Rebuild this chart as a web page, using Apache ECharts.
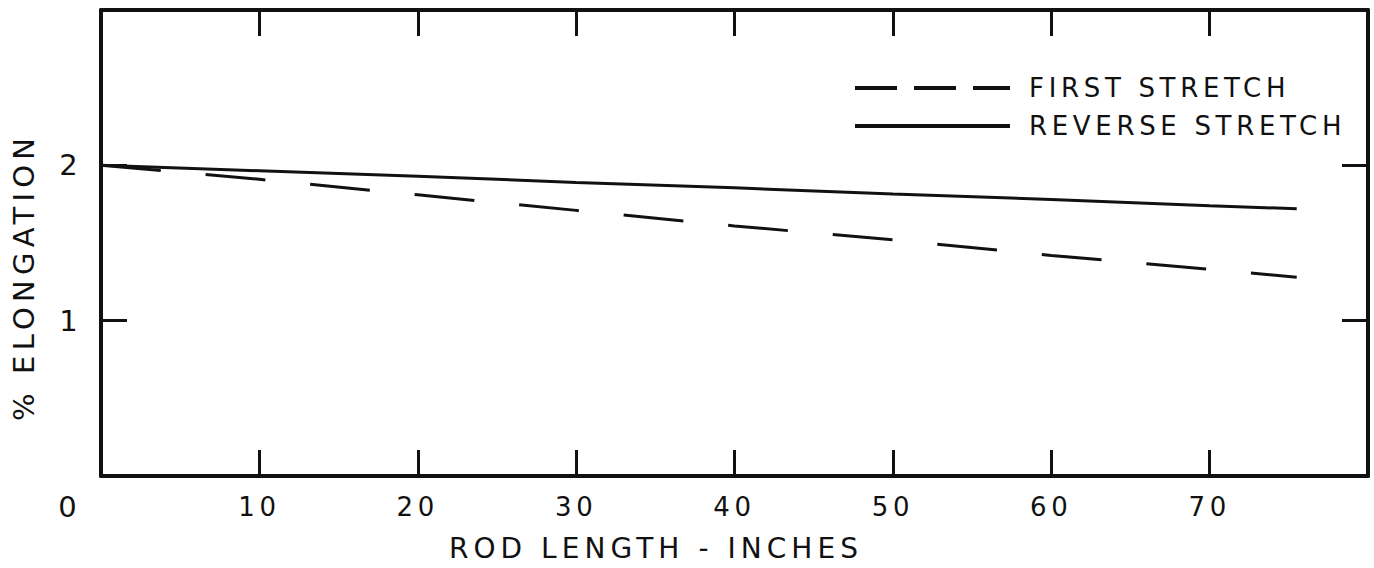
<!DOCTYPE html>
<html>
<head>
<meta charset="utf-8">
<script src="https://cdn.jsdelivr.net/npm/echarts@6/dist/echarts.min.js"></script>
<style>
html, body { margin: 0; padding: 0; background: #fff; }
#chart { width: 1374px; height: 568px; }
/* the original lettering is widely spaced */
#chart text { letter-spacing: 0.18em; }
</style>
</head>
<body>
<div id="chart"></div>
<script>
// rod length (inches) and % elongation
var rodLength = [0, 10, 20, 30, 40, 50, 60, 70, 75.5];
var firstStretch = [2.0, 1.91, 1.81, 1.71, 1.61, 1.52, 1.42, 1.33, 1.28];
var reverseStretch = [2.0, 1.965, 1.93, 1.89, 1.855, 1.815, 1.78, 1.74, 1.72];
var xLabels = [10, 20, 30, 40, 50, 60, 70];
var yLabels = [1, 2];

var ink = '#111';
var font = 'DejaVu Sans';

function pairs(xs, ys) {
    return xs.map(function (x, i) { return [x, ys[i]]; });
}

var boxAxis = {
    axisLine: { show: true, onZero: false, lineStyle: { color: ink, width: 4 } },
    axisTick: { show: true, inside: true, length: 26, lineStyle: { color: ink, width: 3 } },
    splitLine: { show: false }
};

var chart = echarts.init(document.getElementById('chart'), null, { renderer: 'svg' });
chart.setOption({
    backgroundColor: '#fff',
    animation: false,
    grid: { left: 101, right: 6, top: 10, bottom: 92 },
    xAxis: [
        Object.assign({
            type: 'value', min: 0, max: 80, interval: 10, position: 'bottom',
            axisLabel: {
                margin: 18, color: ink, fontFamily: font, fontSize: 26,
                formatter: function (v) { return xLabels.indexOf(v) >= 0 ? String(v) : ''; }
            }
        }, boxAxis),
        Object.assign({
            type: 'value', min: 0, max: 80, interval: 10, position: 'top',
            axisLabel: { show: false }
        }, boxAxis)
    ],
    yAxis: [
        Object.assign({
            type: 'value', min: 0, max: 3, interval: 1, position: 'left',
            axisLabel: {
                margin: 18, color: ink, fontFamily: font, fontSize: 29,
                formatter: function (v) { return yLabels.indexOf(v) >= 0 ? String(v) : ''; }
            }
        }, boxAxis),
        Object.assign({
            type: 'value', min: 0, max: 3, interval: 1, position: 'right',
            axisLabel: { show: false }
        }, boxAxis)
    ],
    legend: {
        orient: 'vertical',
        left: 848,
        top: 70,
        itemWidth: 155,
        itemHeight: 14,
        itemGap: 12,
        selectedMode: false,
        textStyle: { color: ink, fontFamily: font, fontSize: 26, lineHeight: 26, padding: [0, 0, 0, 14] },
        data: [
            { name: 'FIRST STRETCH', itemStyle: { opacity: 0 }, lineStyle: { type: [42, 17], width: 4, color: ink } },
            { name: 'REVERSE STRETCH', itemStyle: { opacity: 0 }, lineStyle: { type: 'solid', width: 4, color: ink } }
        ]
    },
    graphic: [
        {
            type: 'text', left: 449, top: 534,
            style: { text: 'ROD LENGTH - INCHES', fill: ink, font: '28px "DejaVu Sans"' }
        },
        {
            type: 'text', x: 24, y: 277, rotation: Math.PI / 2,
            style: { text: '% ELONGATION', fill: ink, font: '29px "DejaVu Sans"', align: 'center', verticalAlign: 'middle' }
        },
        {
            type: 'text', x: 70, y: 507,
            style: { text: '0', fill: ink, font: '29px "DejaVu Sans"', align: 'center', verticalAlign: 'middle' }
        }
    ],
    series: [
        {
            name: 'FIRST STRETCH', type: 'line', showSymbol: false, symbol: 'none',
            lineStyle: { color: ink, width: 3, type: [60, 45] },
            itemStyle: { color: ink },
            data: pairs(rodLength, firstStretch)
        },
        {
            name: 'REVERSE STRETCH', type: 'line', showSymbol: false, symbol: 'none',
            lineStyle: { color: ink, width: 3, type: 'solid' },
            itemStyle: { color: ink },
            data: pairs(rodLength, reverseStretch)
        }
    ]
});
</script>
</body>
</html>
